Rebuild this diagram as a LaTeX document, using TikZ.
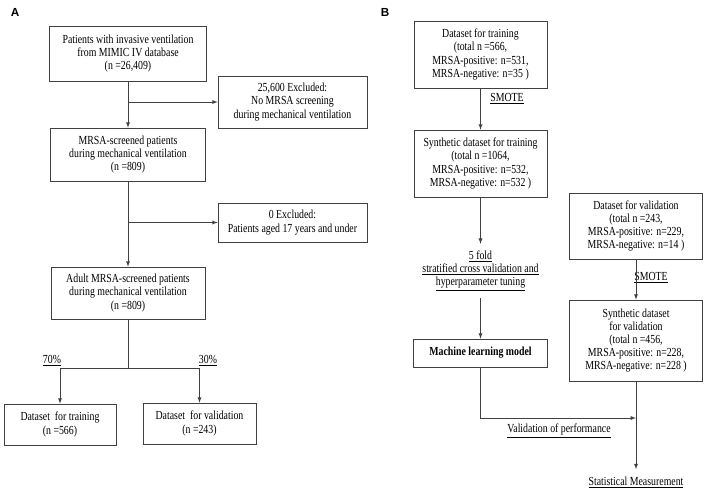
\documentclass[tikz,border=0pt]{standalone}
\usepackage{fontspec}
\setmainfont{Liberation Serif}[FakeStretch=0.80]
\newfontfamily\panelfont{Liberation Sans}
\tikzset{
  box/.style={draw=black!75, line width=0.6pt, align=center, inner sep=2pt, font=\fontsize{10.5}{11.2}\selectfont},
  txt/.style={align=center, inner sep=6pt, font=\fontsize{10.5}{11.2}\selectfont},
  panel/.style={font=\panelfont\bfseries\fontsize{10}{12}\selectfont},
  wire/.style={draw=black!75, line width=0.6pt},
  link/.style={wire, ->, >=latex},
}

\begin{document}
\begin{tikzpicture}[x=0.03cm, y=-0.03cm]
\useasboundingbox (0,0) rectangle (708,493);
% panel A
\node[panel] (labA) at (15,12) {A};
\node[box, minimum width=4.71cm, minimum height=1.65cm] (icu) at (128,53.5) {Patients with invasive ventilation\\from MIMIC IV database\\(n =26,409)};
\node[box, minimum width=4.47cm, minimum height=1.56cm] (noscreen) at (292.5,102) {25,600 Excluded:\\No MRSA screening\\during mechanical ventilation};
\node[box, minimum width=4.65cm, minimum height=1.59cm] (screened) at (128,154.5) {MRSA-screened patients\\during mechanical ventilation\\(n =809)};
\node[box, minimum width=4.47cm, minimum height=1.17cm] (minor) at (292.5,222.5) {0 Excluded:\\Patients aged 17 years and under};
\node[box, minimum width=4.62cm, minimum height=1.56cm] (adult) at (128,293) {Adult MRSA-screened patients\\during mechanical ventilation\\(n =809)};
\node[box, minimum width=3.36cm, minimum height=1.23cm] (train) at (60,424.5) {Dataset\ \ for training\\(n =566)};
\node[box, minimum width=3.39cm, minimum height=1.23cm] (valid) at (199.5,423.5) {Dataset\ \ for validation\\(n =243)};
\node[txt, inner sep=1pt] (p70) at (52,361) {\underline{70\%}};
\node[txt, inner sep=1pt] (p30) at (208,361) {\underline{30\%}};
\coordinate (split) at (128,368);
\draw[link] (icu) -- (screened);
\draw[link] (icu |- noscreen) -- (noscreen);
\draw[link] (screened) -- (adult);
\draw[link] (screened |- minor) -- (minor);
\draw[wire] (adult) -- (split);
\draw[link] (split) -| (train);
\draw[link] (split) -| (valid);
% panel B
\node[panel] (labB) at (385,12) {B};
\node[box, minimum width=3.99cm, minimum height=2.01cm] (trainset) at (480.5,54.5) {Dataset for training\\(total n =566,\\MRSA-positive: n=531,\\MRSA-negative: n=35 )};
\node[txt] (smote1) at (507,99) {\underline{SMOTE}};
\node[box, minimum width=3.99cm, minimum height=2.01cm] (synthtrain) at (480.5,163.5) {Synthetic dataset for training\\(total n =1064,\\MRSA-positive: n=532,\\MRSA-negative: n=532 )};
\node[txt] (cv) at (480.5,271) {\underline{5 fold}\\\underline{stratified cross validation and}\\\underline{hyperparameter tuning}};
\node[box, minimum width=4.02cm, minimum height=0.84cm, font=\fontsize{10.5}{11}\selectfont\bfseries] (model) at (480.5,353) {Machine learning model};
\node[box, minimum width=3.99cm, minimum height=1.98cm] (validset) at (636,226) {Dataset for validation\\(total n =243,\\MRSA-positive: n=229,\\MRSA-negative: n=14 )};
\node[txt] (smote2) at (651,278) {\underline{SMOTE}};
\node[box, minimum width=3.99cm, minimum height=2.43cm] (synthvalid) at (636,340.5) {Synthetic dataset\\for validation\\(total n =456,\\MRSA-positive: n=228,\\MRSA-negative: n=228 )};
\node[txt] (perf) at (559,431) {\underline{Validation of performance}};
\node[txt] (stat) at (636,482) {\underline{Statistical Measurement}};
\coordinate (join) at (636,418);
\draw[link] (trainset) -- (synthtrain);
\draw[link] (synthtrain) -- (cv);
\draw[link] (cv) -- (model);
\draw[link] (validset) -- (synthvalid);
\draw[link] (synthvalid) -- (stat);
\draw[link] (model) |- (join);
\end{tikzpicture}
\end{document}
